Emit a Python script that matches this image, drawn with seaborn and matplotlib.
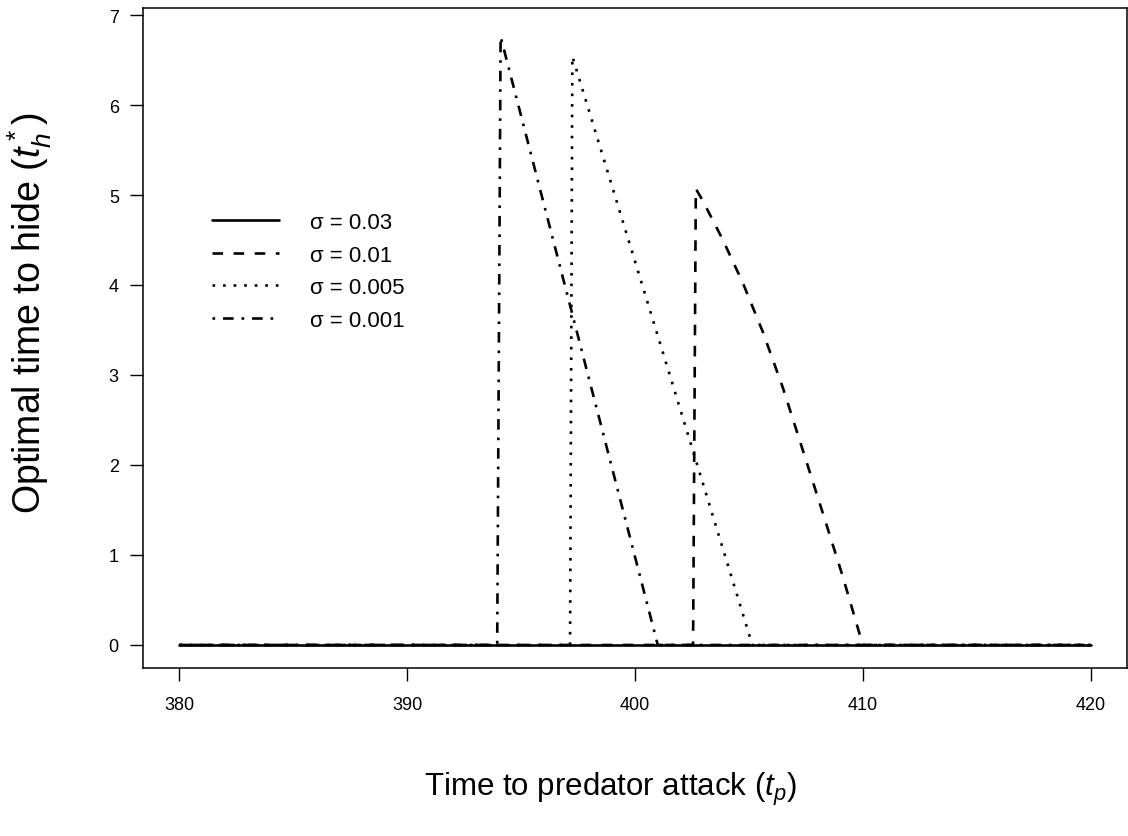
import matplotlib
matplotlib.use('Agg')

import seaborn as sns
import matplotlib.pyplot as plt

# values (breakpoints of each curve)
x_s003 = [380, 420]
y_s003 = [0, 0]

x_s001 = [380, 402.55, 402.67, 402.99, 403.86, 404.74, 405.61, 406.49, 407.36, 408.24, 409.11, 410.0, 420]
y_s001 = [0, 0, 5.07, 4.93, 4.50, 4.02, 3.48, 2.86, 2.17, 1.47, 0.77, 0, 0]

x_s0005 = [380, 397.15, 397.25, 405.15, 420]
y_s0005 = [0, 0, 6.54, 0, 0]

x_s0001 = [380, 393.95, 394.1, 401.0, 420]
y_s0001 = [0, 0, 6.76, 0, 0]

labels = ["σ = 0.03", "σ = 0.01", "σ = 0.005", "σ = 0.001"]
x_ticks = [380, 390, 400, 410, 420]
y_ticks = [0, 1, 2, 3, 4, 5, 6, 7]

sns.set_style("ticks")
plt.rcParams['font.family'] = ['Liberation Sans', 'DejaVu Sans']
plt.rcParams['mathtext.fontset'] = 'custom'
plt.rcParams['mathtext.rm'] = 'Liberation Sans'
plt.rcParams['mathtext.it'] = 'Liberation Sans:italic'
for k in ['text.color', 'axes.labelcolor', 'xtick.color', 'ytick.color', 'axes.edgecolor']:
    plt.rcParams[k] = 'black'

fig = plt.figure(figsize=(11.28, 8.37), dpi=100)
ax = fig.add_axes([143 / 1128, 1 - 669 / 837, 984 / 1128, 660 / 837])

styles = ['-', (0, (4, 4)), (0, (1, 3)), (0, (1, 3, 4, 3))]
series = [(x_s003, y_s003), (x_s001, y_s001), (x_s0005, y_s0005), (x_s0001, y_s0001)]
for (xs, ys), ls, lab in zip(series, styles, labels):
    sns.lineplot(x=xs, y=ys, ax=ax, color='black', linestyle=ls, linewidth=1.9,
                 label=lab, sort=False, estimator=None)

ax.set_xlim(378.4, 421.6)
ax.set_ylim(-0.256, 7.078)
ax.set_xticks(x_ticks)
ax.set_yticks(y_ticks)
ax.tick_params(direction='out', length=9.4, width=1.0, labelsize=13, color='black')
ax.tick_params(axis='x', pad=11)
ax.tick_params(axis='y', pad=8)
for sp in ax.spines.values():
    sp.set_visible(True)
    sp.set_linewidth(1.1)
    sp.set_color('black')

ax.set_xlabel(r"Time to predator attack $(t_p)$", fontsize=22.5)
ax.set_ylabel(r"Optimal time to hide $(t_h^*)$", fontsize=27)
ax.xaxis.label.set_va('center')
ax.yaxis.label.set_va('center')
ax.xaxis.set_label_coords(0.4746, -0.183)
ax.yaxis.set_label_coords(-0.115, 0.539)

leg = ax.legend(loc='upper left', bbox_to_anchor=(69 / 984, (669 - 213) / 660),
                frameon=False, fontsize=16, handlelength=3.0, handletextpad=1.4,
                labelspacing=0.52, borderpad=0, borderaxespad=0)

plt.savefig('out.png', dpi=100)
plt.close('all')
